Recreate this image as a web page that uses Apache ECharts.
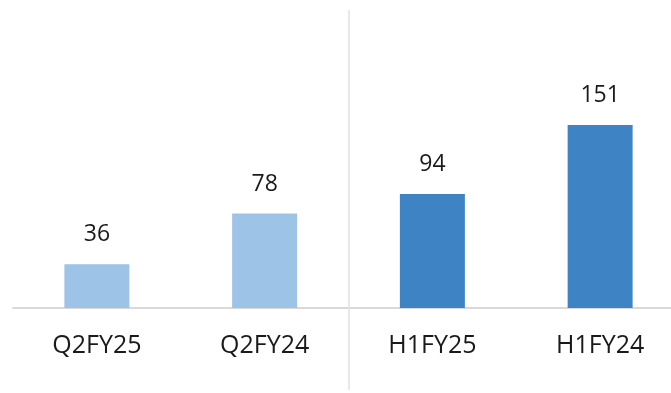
<!DOCTYPE html>
<html>
<head>
<meta charset="utf-8">
<script src="https://cdn.jsdelivr.net/npm/echarts@6/dist/echarts.min.js"></script>
<style>
  html, body { margin: 0; padding: 0; background: #fff; }
  #chart { width: 671px; height: 393px; }
</style>
</head>
<body>
<div id="chart"></div>
<script>
const categories = ["Q2FY25", "Q2FY24", "H1FY25", "H1FY24"];
const values = [36, 78, 94, 151];
const barColors = ["#9dc3e6", "#9dc3e6", "#3e84c5", "#3e84c5"];
// the separator sits between the quarter and half-year groups
const dividerAt = 2;

const chart = echarts.init(document.getElementById("chart"));
chart.setOption({
  animation: false,
  textStyle: { fontFamily: "Open Sans" },
  grid: [
    { left: 13, width: 671, top: 10, bottom: 85, outerBoundsMode: "none", containLabel: false },
    { left: 13, width: 671, top: 10, bottom: 3, outerBoundsMode: "none", containLabel: false }
  ],
  xAxis: [
    {
      type: "category",
      gridIndex: 0,
      data: categories,
      axisLine: { lineStyle: { color: "#d9d9d9", width: 2 } },
      axisTick: { show: false },
      axisLabel: { color: "#1a1a1a", fontSize: 25, margin: 25 },
      splitLine: { show: false }
    },
    {
      type: "value",
      gridIndex: 1,
      min: 0,
      max: categories.length,
      show: false
    }
  ],
  yAxis: [
    {
      type: "value",
      gridIndex: 0,
      min: 0,
      max: 245.9,
      show: false,
      splitLine: { show: false }
    },
    {
      type: "value",
      gridIndex: 1,
      min: 0,
      max: 1,
      show: false
    }
  ],
  series: [
    {
      type: "bar",
      barWidth: 65,
      data: values.map(function (v, i) {
        return { value: v, itemStyle: { color: barColors[i] } };
      }),
      label: {
        show: true,
        position: "top",
        distance: 18,
        color: "#1a1a1a",
        fontSize: 23
      }
    },
    {
      type: "line",
      xAxisIndex: 1,
      yAxisIndex: 1,
      data: [[dividerAt, 0]],
      showSymbol: false,
      silent: true,
      markLine: {
        silent: true,
        symbol: "none",
        label: { show: false },
        lineStyle: { color: "#e0e0e0", width: 1.5, type: "solid" },
        data: [{ xAxis: dividerAt }]
      }
    }
  ]
});
</script>
</body>
</html>
